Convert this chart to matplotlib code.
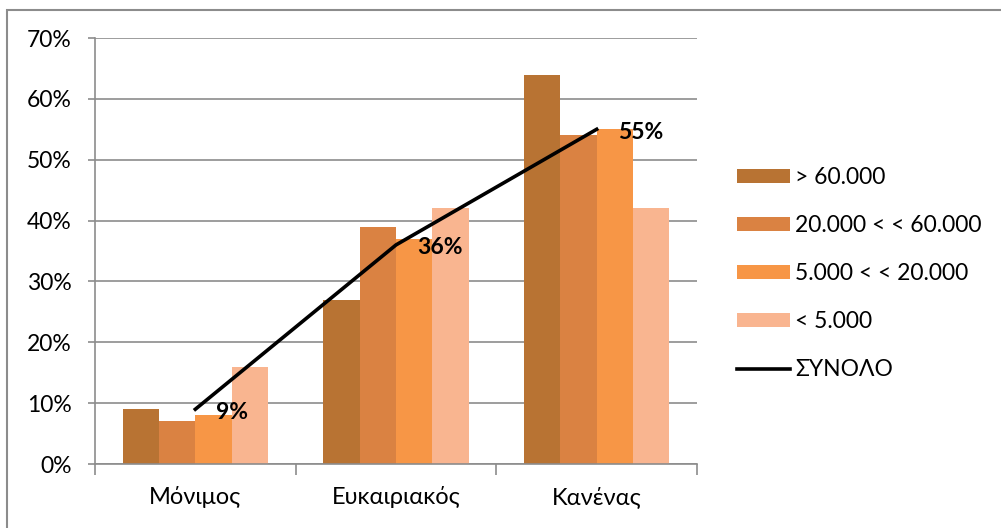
import numpy as np
import matplotlib.pyplot as plt
from matplotlib.patches import Rectangle

# data
categories = ["Μόνιμος", "Ευκαιριακός", "Κανένας"]
series_names = ["> 60.000", "20.000 < < 60.000", "5.000 < < 20.000", "< 5.000"]
series_values = [
    [9, 27, 64],
    [7, 39, 54],
    [8, 37, 55],
    [16, 42, 42],
]
total_name = "ΣΥΝΟΛΟ"
total_values = [9, 36, 55]
yticks = [0, 10, 20, 30, 40, 50, 60, 70]

colors = ["#B87333", "#DA8242", "#F79646", "#F9B590"]
grid_col = "#8C8C8C"

plt.rcParams['font.family'] = ['Lato', 'DejaVu Sans']

fig = plt.figure(figsize=(10.01, 5.28), dpi=100)
ax = fig.add_axes([0.0949, 0.1212, 0.6014, 0.8068])

x = np.arange(len(categories))
width = 0.181
for i, (name, vals) in enumerate(zip(series_names, series_values)):
    ax.bar(x + (i - 1.5) * width, vals, width, color=colors[i], label=name,
           zorder=2, edgecolor="none")

ax.plot(x, total_values, color="black", linewidth=2.6, label=total_name, zorder=3)
for xi, v in zip(x, total_values):
    ax.annotate(f"{v}%", (xi, v), xytext=(21, -3), textcoords="offset pixels",
                ha="left", va="center", fontsize=16.5, fontweight="bold", zorder=4)

ax.set_xlim(-0.5, 2.5)
ax.set_ylim(0, 70)
ax.set_yticks(yticks)
ax.set_yticklabels([f"{t}%" for t in yticks], fontsize=16.5)
ax.yaxis.grid(True, color=grid_col, linewidth=1.2, zorder=0)
ax.set_axisbelow(True)

ax.set_xticks([-0.5, 0.5, 1.5, 2.5])
ax.set_xticklabels([])
ax.set_xticks(x, minor=True)
ax.set_xticklabels(categories, minor=True, fontsize=17)
ax.tick_params(axis="x", which="minor", length=0, pad=16)
ax.tick_params(axis="x", which="major", length=8, color=grid_col, width=1.2)
ax.tick_params(axis="y", length=5, color=grid_col, width=1.2, pad=12)

for s in ["top", "right"]:
    ax.spines[s].set_visible(False)
for s in ["left", "bottom"]:
    ax.spines[s].set_color(grid_col)
    ax.spines[s].set_linewidth(1.2)

handles, labels = ax.get_legend_handles_labels()
order = [1, 2, 3, 4, 0]
leg = fig.legend([handles[k] for k in order], [labels[k] for k in order],
                 loc="upper left", bbox_to_anchor=(0.727, 0.701), frameon=False,
                 fontsize=16.5, handlelength=2.3, handletextpad=0.25,
                 labelspacing=1.18, borderaxespad=0, handleheight=0.6)

# outer chart frame
fig.patches.append(Rectangle((7 / 1001, -0.1), 1.1, (528 - 10) / 528 + 0.1,
                             transform=fig.transFigure, fill=False,
                             edgecolor=grid_col, linewidth=1.5))

fig.savefig("out.png", dpi=100)
